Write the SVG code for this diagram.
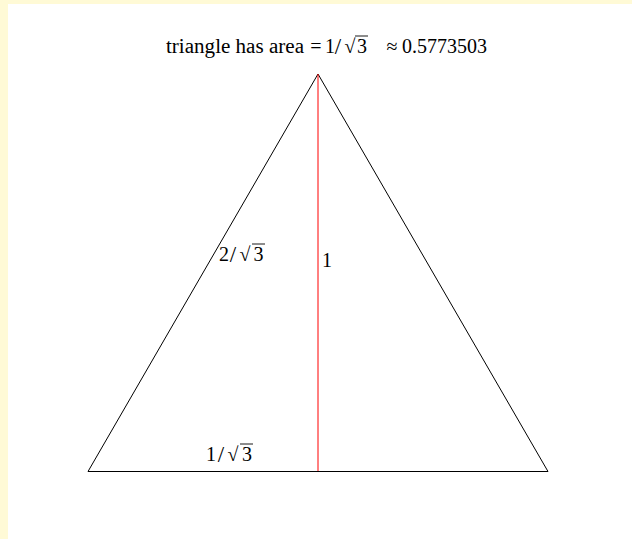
<svg xmlns="http://www.w3.org/2000/svg" width="632" height="539" viewBox="0 0 632 539">
<style>
text{font-family:"Liberation Serif","DejaVu Serif",serif;font-size:20px;fill:#000}
.c{text-anchor:middle}
.sl{font-size:23px}
.vin{stroke:#000;stroke-width:0.9}
.edge{stroke:#000;stroke-width:1;fill:none}
</style>
<rect x="0" y="0" width="632" height="539" fill="#fffad6"/>
<rect x="8" y="4" width="624" height="535" fill="#fff"/>
<g id="title">
<text x="166" y="53" textLength="138" lengthAdjust="spacingAndGlyphs">triangle has area</text>
<text y="53" class="c"><tspan x="316">=</tspan><tspan x="330">1</tspan><tspan x="338" class="sl" dy="1">/</tspan><tspan x="350" dy="-1">√</tspan><tspan x="362">3</tspan><tspan x="392">≈</tspan></text>
<text x="402" y="53">0.5773503</text>
<line class="vin" x1="355" y1="36" x2="368" y2="36"/>
</g>
<g id="connectors">
<polyline class="edge" points="318,74 88,471.5 548,471.5 318,74"/>
<line x1="318" y1="74" x2="318" y2="471" stroke="#ff0000" stroke-width="1"/>
</g>
<g id="label-hyp">
<text y="261" class="c"><tspan x="224">2</tspan><tspan x="233" class="sl" dy="1">/</tspan><tspan x="245" dy="-1">√</tspan><tspan x="258.5">3</tspan></text>
<line class="vin" x1="252" y1="244" x2="265" y2="244"/>
</g>
<g id="label-height"><text x="327" y="267" class="c">1</text></g>
<g id="label-base">
<text y="461" class="c"><tspan x="211">1</tspan><tspan x="221" class="sl" dy="1">/</tspan><tspan x="233" dy="-1">√</tspan><tspan x="247">3</tspan></text>
<line class="vin" x1="240" y1="444" x2="253" y2="444"/>
</g>
</svg>
